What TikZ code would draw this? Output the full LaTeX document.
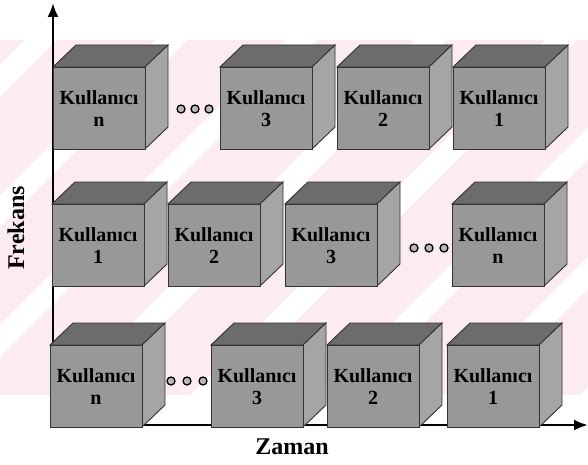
\documentclass[tikz,border=0pt]{standalone}
\usepackage{fontspec}
\setmainfont{Liberation Serif}
\usetikzlibrary{arrows.meta}

\definecolor{filigran}{RGB}{252,235,239}
\definecolor{onyuz}{RGB}{152,152,152}
\definecolor{ustyuz}{RGB}{108,108,108}
\definecolor{yanyuz}{RGB}{165,165,165}

% one cube: name, x and y of the front face's top left corner, text
\newcommand{\kutu}[4]{%
  \filldraw[kutuust] (#2,#3) -- ++(23,-22) -- ++(92,0) -- ++(-23,22) -- cycle;
  \filldraw[kutuyan] (#2+92,#3) -- ++(23,-22) -- ++(0,82) -- ++(-23,22) -- cycle;
  \filldraw[kutuon] (#2,#3) rectangle ++(92,82);
  \node[etiket] (#1) at (#2+46,#3+42) {#4};
}

\begin{document}
\begin{tikzpicture}[
  x=1pt, y=-1pt,
  kutuon/.style={fill=onyuz, draw=black!80, line width=0.9pt},
  kutuust/.style={fill=ustyuz, draw=black!80, line width=0.9pt},
  kutuyan/.style={fill=yanyuz, draw=black!80, line width=0.9pt},
  etiket/.style={align=center, font=\fontsize{20}{22}\selectfont\bfseries, text=black},
  nokta/.style={circle, draw=black, fill=gray!55, line width=1.3pt, inner sep=0pt, minimum size=8pt},
  eksen/.style={-{Latex[length=14pt,width=11pt]}, line width=2.4pt},
  baslik/.style={font=\fontsize{24}{26}\selectfont\bfseries}
]
\useasboundingbox (0,0) rectangle (588,465);

% watermark
\begin{scope}
  \clip (0,40) rectangle (588,395);
  \fill[filigran] (0,40) rectangle (588,395);
  \foreach \s in {-330,-200,...,600}
    \fill[white] (\s,395) -- ++(32,0) -- ++(355,-355) -- ++(-32,0) -- cycle;
\end{scope}

% axes
\coordinate (o) at (53,425);
\coordinate (yust) at (53,3);
\coordinate (xsag) at (588,425);
\draw[eksen] (53,426) -- (yust);
\draw[eksen] (50,425) -- (xsag);

% top row
\kutu{a1}{53}{67}{Kullanıcı\\n}
\kutu{a2}{220}{67}{Kullanıcı\\3}
\kutu{a3}{337}{67}{Kullanıcı\\2}
\kutu{a4}{453}{67}{Kullanıcı\\1}
\foreach \i/\x in {1/181,2/195,3/209}
  \node[nokta] (an\i) at (\x,109) {};

% middle row
\kutu{b1}{52}{204}{Kullanıcı\\1}
\kutu{b2}{168}{204}{Kullanıcı\\2}
\kutu{b3}{285}{204}{Kullanıcı\\3}
\kutu{b4}{452}{204}{Kullanıcı\\n}
\foreach \i/\x in {1/414,2/429,3/444}
  \node[nokta] (bn\i) at (\x,248) {};

% bottom row
\kutu{c1}{50}{345}{Kullanıcı\\n}
\kutu{c2}{211}{345}{Kullanıcı\\3}
\kutu{c3}{327}{345}{Kullanıcı\\2}
\kutu{c4}{447}{345}{Kullanıcı\\1}
\foreach \i/\x in {1/171,2/187,3/203}
  \node[nokta] (cn\i) at (\x,381) {};

% axis titles
\node[baslik, rotate=90] (frekans) at (16,228) {Frekans};
\node[baslik] (zaman) at (292,447) {Zaman};
\end{tikzpicture}
\end{document}
